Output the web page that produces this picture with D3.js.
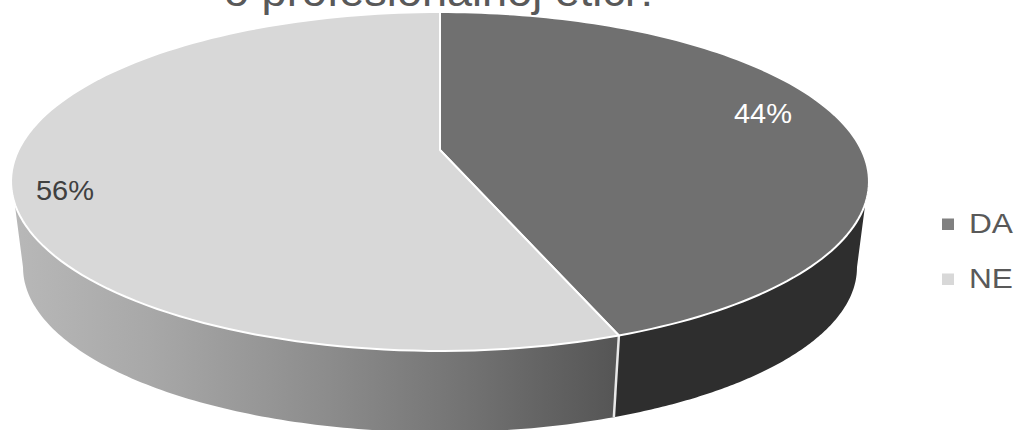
<!DOCTYPE html>
<html><head><meta charset="utf-8">
<script src="https://cdnjs.cloudflare.com/ajax/libs/d3/7.8.5/d3.min.js"></script>
<style>html,body{margin:0;padding:0;background:#fff;overflow:hidden}svg{display:block}text{font-family:"Liberation Sans",Arial,sans-serif}</style>
</head><body><svg id="c" width="1023" height="430"></svg>
<script>
const categories = ["DA", "NE"];
const values = [44.3, 55.7];
const topColors = ["#707070", "#d8d8d8"];
const titleText = "o profesionalnoj etici?";

const W = 1023, H = 430;
const svg = d3.select("#c");
const cx = 440, apexY = 150, p = 0.1858, A = 421.5, B = 163.6;
const ellipseCy = 181, sideScale = 0.972, sideCy = 267;

const project = a => {
  const X = Math.sin(a), Y = -Math.cos(a), d = 1 - p * Y;
  return [cx + A * X / d, apexY + B * Y / d];
};
const projectBase = a => {
  const [x, y] = project(a);
  return [cx + (x - cx) * sideScale, sideCy + (y - ellipseCy) * sideScale];
};
const pie = d3.pie().sort(null)(values);
const line = d3.line();
const sample = (a0, a1, f) => d3.range(0, 121).map(i => f(a0 + (a1 - a0) * i / 120));

const defs = svg.append("defs");
const grad = defs.append("linearGradient").attr("id", "sideNE").attr("gradientUnits", "userSpaceOnUse")
  .attr("x1", 14).attr("x2", 612).attr("y1", 0).attr("y2", 0);
[[0, "#b8b8b8"], [0.226, "#a8a8a8"], [0.525, "#8c8c8c"], [0.71, "#787878"], [1, "#565656"]].forEach(s =>
  grad.append("stop").attr("offset", s[0]).attr("stop-color", s[1]));

// visible wall ranges, in pie-angle terms
const wallStart = 108 * Math.PI / 180, wallEnd = 252 * Math.PI / 180;
const baseStart = 100.7 * Math.PI / 180, baseEnd = 259.3 * Math.PI / 180;
const boundary = pie[0].endAngle;
const wall = (topA, topB, baseA, baseB) =>
  line(sample(topA, topB, project).concat(sample(baseB, baseA, projectBase))) + "Z";

svg.append("path").attr("d", wall(boundary, wallEnd, boundary, baseEnd)).attr("fill", "url(#sideNE)");
svg.append("path").attr("d", wall(wallStart, boundary, baseStart, boundary)).attr("fill", "#2e2e2e");
svg.append("path").attr("d", line([project(boundary), projectBase(boundary)]))
  .attr("stroke", "#e8e8e8").attr("stroke-width", 2.5).attr("fill", "none");

svg.selectAll("path.top").data(pie).join("path").attr("class", "top")
  .attr("d", d => line([[cx, apexY]].concat(sample(d.startAngle, d.endAngle, project))) + "Z")
  .attr("fill", (d, i) => topColors[i])
  .attr("stroke", "#fff").attr("stroke-width", 2).attr("stroke-linejoin", "round");

// data labels
const labelPos = [[734, 123], [36, 200]];
svg.selectAll("text.lab").data(pie).join("text").attr("class", "lab")
  .attr("x", (d, i) => labelPos[i][0]).attr("y", (d, i) => labelPos[i][1])
  .attr("font-size", 28).attr("textLength", 58).attr("lengthAdjust", "spacingAndGlyphs")
  .attr("fill", (d, i) => i === 0 ? "#ffffff" : "#404040")
  .text(d => Math.round(d.value) + "%");

// legend
const legendY = d3.scalePoint().domain(categories).range([224, 279]);
svg.selectAll("rect.leg").data(categories).join("rect").attr("class", "leg")
  .attr("x", 942).attr("y", d => legendY(d) - 5.5).attr("width", 12).attr("height", 11.5)
  .attr("fill", (d, i) => i === 0 ? "#808080" : "#d8d8d8");
svg.selectAll("text.leg").data(categories).join("text").attr("class", "leg")
  .attr("x", 969).attr("y", d => legendY(d) + 9)
  .attr("font-size", 28).attr("textLength", 44).attr("lengthAdjust", "spacingAndGlyphs")
  .attr("fill", "#595959").text(d => d);

svg.append("text").attr("x", 224).attr("y", 6)
  .attr("font-size", 43).attr("textLength", 436).attr("lengthAdjust", "spacingAndGlyphs")
  .attr("fill", "#595959").text(titleText);
</script></body></html>
